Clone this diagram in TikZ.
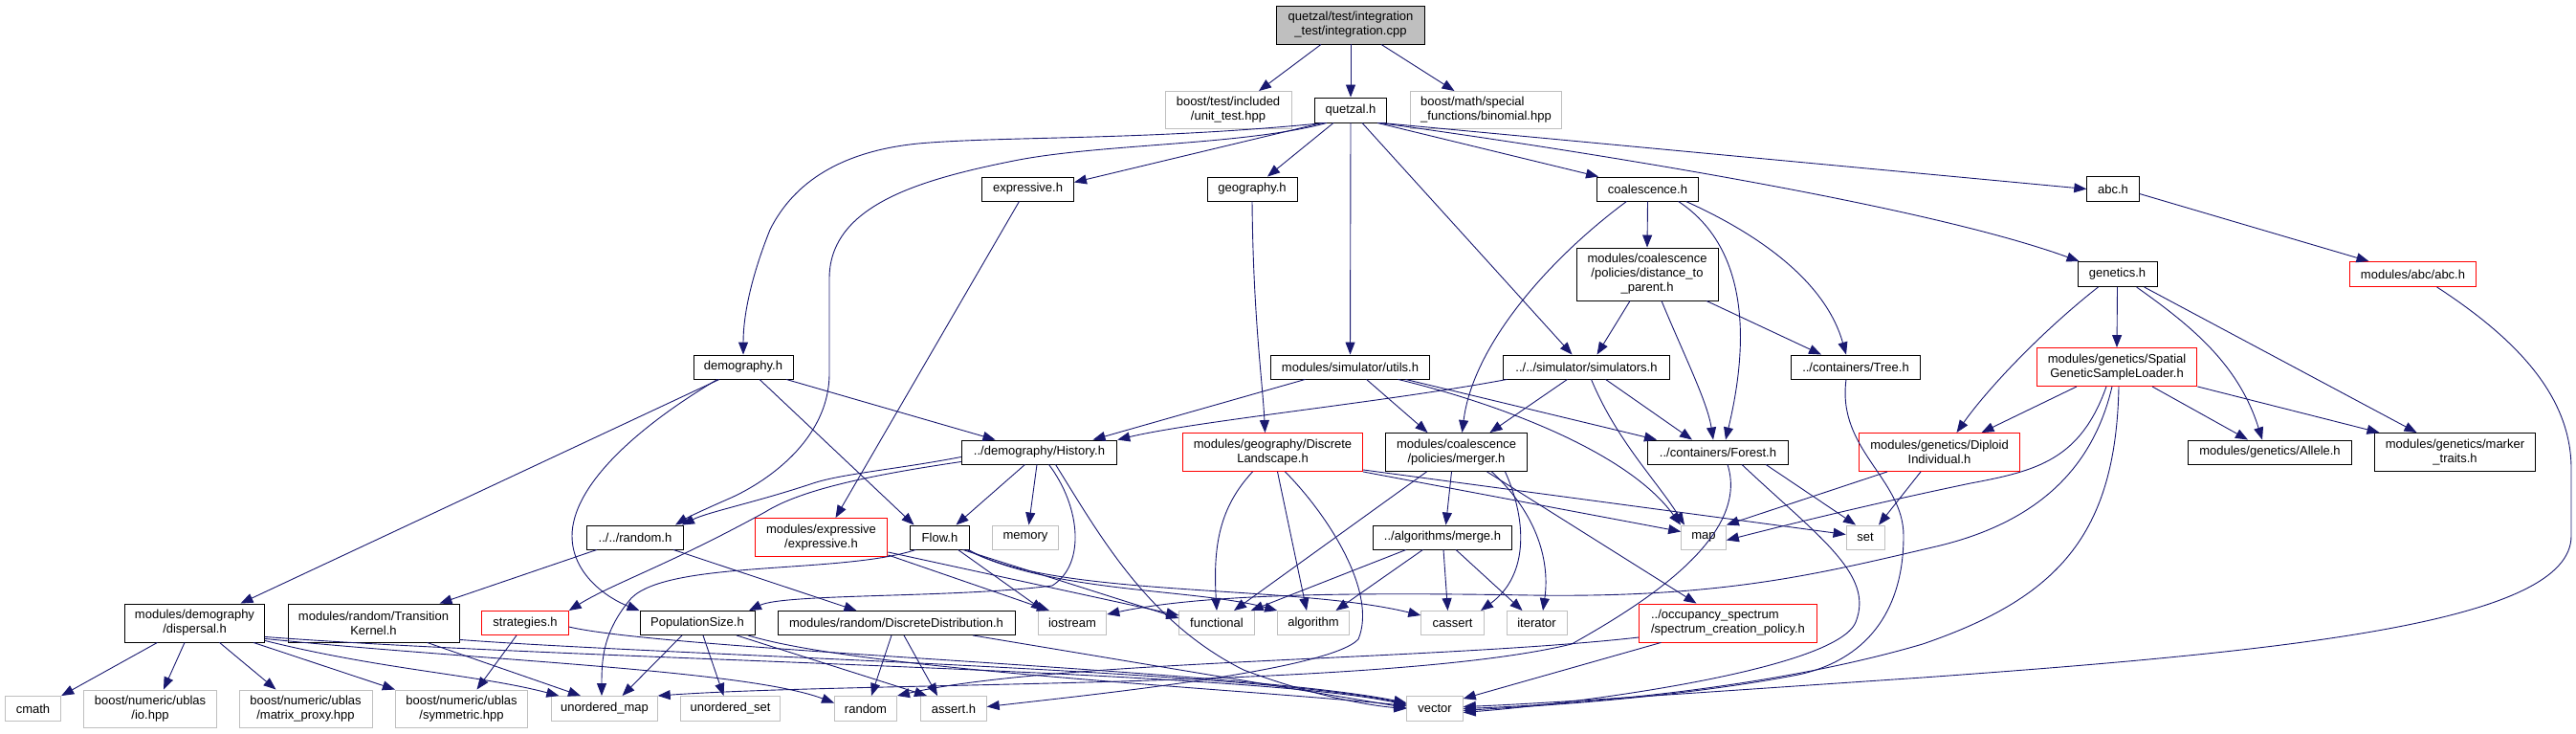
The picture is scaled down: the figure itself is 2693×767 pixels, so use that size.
\documentclass[tikz,border=0pt]{standalone}
\usepackage{fontspec}
\setmainfont{Liberation Sans}
\usetikzlibrary{arrows.meta}
\definecolor{eb}{HTML}{191970}
\definecolor{gb}{HTML}{BFBFBF}
\tikzset{
 box/.style={line width=0.9pt, inner sep=0pt, align=center, font=\fontsize{13pt}{15pt}\selectfont},
 nb/.style={box, draw=black},
 rb/.style={box, draw=red},
 sb/.style={box, draw=gb},
 sz/.style 2 args={minimum width=#1pt, minimum height=#2pt},
 e/.style={draw=eb, line width=0.9pt, -{Triangle[length=13pt,width=10pt]}},
}
\begin{document}
\begin{tikzpicture}[x=1pt,y=-1pt]
\useasboundingbox (0,0) rectangle (2693,767);
% row 0-1
\node[nb, fill=gb, sz={155}{40}] (root) at (1412,26) {quetzal/test/integration\\\_test/integration.cpp};
\node[sb, sz={132}{39}] (boostTest) at (1284,115) {boost/test/included\\/unit\_test.hpp};
\node[nb, sz={75}{26}] (quetzal) at (1412,115) {quetzal.h};
\node[sb, sz={158}{39}, align=left] (binomial) at (1553.5,115) {boost/math/special\\\_functions/binomial.hpp};
% row 2
\node[nb, sz={96}{25}] (expressive) at (1074.5,197.5) {expressive.h};
\node[nb, sz={94}{25}] (geography) at (1309,197.5) {geography.h};
\node[nb, sz={106}{25}] (coalescence) at (1722.5,197.5) {coalescence.h};
\node[nb, sz={54.5}{25.5}] (abc) at (2209,197.5) {abc.h};
% row 3
\node[nb, sz={148}{55}] (dtp) at (1722,286.5) {modules/coalescence\\/policies/distance\_to\\\_parent.h};
\node[nb, sz={83}{26}] (genetics) at (2213.5,286.5) {genetics.h};
\node[rb, sz={132}{26}] (abcabc) at (2522.5,286.5) {modules/abc/abc.h};
% row 4
\node[nb, sz={104}{25}] (demography) at (777,383.5) {demography.h};
\node[nb, sz={166.5}{25}] (utils) at (1411.5,383.5) {modules/simulator/utils.h};
\node[nb, sz={174.4}{25}] (simulators) at (1658.5,383.5) {../../simulator/simulators.h};
\node[nb, sz={134.5}{25}] (Tree) at (1940,383.5) {../containers/Tree.h};
\node[rb, sz={167.7}{40}] (SGSL) at (2213,383.5) {modules/genetics/Spatial\\GeneticSampleLoader.h};
% row 5
\node[nb, sz={162.6}{25}] (History) at (1086.5,472.5) {../demography/History.h};
\node[rb, sz={188}{40}] (DL) at (1330.5,472.5) {modules/geography/Discrete\\Landscape.h};
\node[nb, sz={148.3}{40}] (merger) at (1522.5,472.5) {modules/coalescence\\/policies/merger.h};
\node[nb, sz={146.5}{25}] (Forest) at (1796,472.5) {../containers/Forest.h};
\node[rb, sz={168}{40}] (Diploid) at (2027.5,472.5) {modules/genetics/Diploid\\Individual.h};
\node[nb, sz={170.7}{25}] (Allele) at (2373,472.5) {modules/genetics/Allele.h};
\node[nb, sz={167.7}{40}] (marker) at (2566.5,472.5) {modules/genetics/marker\\\_traits.h};
% row 6
\node[nb, sz={101}{25}] (randomh) at (664,561.5) {../../random.h};
\node[rb, sz={138.7}{40}] (expExp) at (858.5,561.5) {modules/expressive\\/expressive.h};
\node[nb, sz={61.6}{25}] (Flow) at (982.5,561.5) {Flow.h};
\node[sb, sz={69}{25}] (memory) at (1072,561.5) {memory};
\node[nb, sz={145.7}{25}] (merge) at (1508,561.5) {../algorithms/merge.h};
\node[sb, sz={46.8}{25}] (map) at (1781,561.5) {map};
\node[sb, sz={40}{25}] (set) at (1950,561.5) {set};
% row 7
\node[nb, sz={146}{40}] (dispersal) at (203.5,651) {modules/demography\\/dispersal.h};
\node[nb, sz={179}{40}] (TK) at (390.5,651) {modules/random/Transition\\Kernel.h};
\node[rb, sz={90.5}{25}] (strategies) at (549,651) {strategies.h};
\node[nb, sz={120}{25}] (PopSize) at (729,651) {PopulationSize.h};
\node[nb, sz={248}{25}] (DD) at (937,651) {modules/random/DiscreteDistribution.h};
\node[sb, sz={71.6}{25}] (iostream) at (1121,651) {iostream};
\node[sb, sz={78.5}{25}] (functional) at (1272,651) {functional};
\node[sb, sz={74.6}{25}] (algorithm) at (1373,651) {algorithm};
\node[sb, sz={65.5}{25}] (cassert) at (1518.5,651) {cassert};
\node[sb, sz={63}{25}] (iterator) at (1606.5,651) {iterator};
\node[rb, sz={185.6}{40}, align=left] (spectrum) at (1806.5,651) {../occupancy\_spectrum\\/spectrum\_creation\_policy.h};
% row 8
\node[sb, sz={58.5}{26}] (cmath) at (34.5,740.5) {cmath};
\node[sb, sz={138.4}{39}] (io) at (157,740.5) {boost/numeric/ublas\\/io.hpp};
\node[sb, sz={139}{39}] (matrix) at (319.5,740.5) {boost/numeric/ublas\\/matrix\_proxy.hpp};
\node[sb, sz={138.3}{39}] (symmetric) at (482.5,740.5) {boost/numeric/ublas\\/symmetric.hpp};
\node[sb, sz={110.5}{26}] (umap) at (632,740.5) {unordered\_map};
\node[sb, sz={103.3}{26}] (uset) at (763.5,740.5) {unordered\_set};
\node[sb, sz={65}{26}] (random) at (905,740.5) {random};
\node[sb, sz={68.5}{26}] (assert) at (997,740.5) {assert.h};
\node[sb, sz={58.5}{26}] (vector) at (1500,740.5) {vector};

% ---- edges ----
\draw[e] ([xshift=-31pt]root.south) -- ([xshift=32pt]boostTest.north);
\draw[e] (root.south) -- (quetzal.north);
\draw[e] ([xshift=32pt]root.south) -- ([xshift=-33pt]binomial.north);

\draw[e] ([xshift=-27pt]quetzal.south) .. controls (1200,147) and (1050,142) .. (960,150) .. controls (880,158) and (830,190) .. (805,240) .. controls (785,290) and (777,330) .. (demography.north);
\draw[e] ([xshift=-25pt]quetzal.south) .. controls (1300,152) and (1150,150) .. (1060,168) .. controls (960,188) and (868,215) .. (867,290) -- (867,390) .. controls (867,460) and (800,505) .. (760,522) .. controls (735,533) and (720,540) .. ([xshift=42pt]randomh.north);
\draw[e] ([xshift=-30pt]quetzal.south) -- ([yshift=7pt]expressive.east);
\draw[e] ([xshift=-18pt]quetzal.south) -- ([xshift=16pt]geography.north);
\draw[e] (quetzal.south) -- (utils.north);
\draw[e] ([xshift=12pt]quetzal.south) -- ([xshift=-15pt]simulators.north);
\draw[e] ([xshift=28pt]quetzal.south) -- ([xshift=2pt]coalescence.north west);
\draw[e] ([xshift=30pt]quetzal.south) .. controls (1600,150) and (2000,210) .. ([xshift=2pt]genetics.north west);
\draw[e] ([xshift=32pt]quetzal.south) -- (abc.west);

\draw[e] ([xshift=-9pt]expressive.south) -- ([xshift=15pt]expExp.north);
\draw[e] (geography.south) .. controls (1310,330) and (1320,400) .. ([xshift=-8pt]DL.north);
\draw[e] ([yshift=-5pt]abc.east) -- ([xshift=-46pt]abcabc.north);
\draw[e] ([xshift=25pt]abcabc.south) .. controls (2640,360) and (2688,420) .. (2688,490) -- (2688,560) .. controls (2688,650) and (2400,680) .. (2010,708) .. controls (1800,722) and (1620,735) .. ([yshift=2pt]vector.east);

\draw[e] (coalescence.south) -- (dtp.north);
\draw[e] ([xshift=-22pt]coalescence.south) .. controls (1620,270) and (1540,360) .. ([xshift=6pt]merger.north);
\draw[e] ([xshift=32pt]coalescence.south) .. controls (1815,250) and (1835,330) .. ([xshift=8pt]Forest.north);
\draw[e] ([xshift=40pt]coalescence.south) .. controls (1850,250) and (1910,300) .. ([xshift=-10pt]Tree.north);
\draw[e] ([xshift=-18pt]dtp.south) -- ([xshift=11pt]simulators.north);
\draw[e] ([xshift=15pt]dtp.south) .. controls (1760,370) and (1785,420) .. ([xshift=-5pt]Forest.north);
\draw[e] ([xshift=62pt]dtp.south) -- ([xshift=-36pt]Tree.north);

\draw[e] (genetics.south) -- (SGSL.north);
\draw[e] ([xshift=-20pt]genetics.south) .. controls (2130,350) and (2075,410) .. ([xshift=18pt]Diploid.north);
\draw[e] ([xshift=20pt]genetics.south) .. controls (2290,340) and (2340,380) .. ([xshift=-8pt]Allele.north);
\draw[e] ([xshift=28pt]genetics.south) -- ([xshift=-40pt]marker.north);
\draw[e] ([xshift=-42pt]SGSL.south) -- ([xshift=44pt]Diploid.north);
\draw[e] ([xshift=37pt]SGSL.south) -- ([xshift=-23pt]Allele.north);
\draw[e] (SGSL.south east) -- ([xshift=-79pt]marker.north);
\draw[e] ([xshift=-11pt]SGSL.south) .. controls (2175,480) and (2130,492) .. (2060,505) .. controls (1950,528) and (1870,548) .. ([yshift=-3pt]map.east);
\draw[e] ([xshift=-5pt]SGSL.south) .. controls (2190,480) and (2140,545) .. (2020,572) .. controls (1900,600) and (1800,625) .. (1600,622) .. controls (1420,619) and (1260,620) .. ([yshift=9pt]iostream.east);
\draw[e] ([xshift=2pt]SGSL.south) .. controls (2212,560) and (2150,625) .. (2010,673) .. controls (1850,720) and (1650,736) .. (vector.east);

\draw[e] ([xshift=45pt]demography.south) -- ([xshift=-46pt]History.north);
\draw[e] ([xshift=17pt]demography.south) -- ([xshift=-27pt]Flow.north);
\draw[e] ([xshift=-27pt]demography.south) .. controls (660,450) and (598,510) .. (598,560) .. controls (598,600) and (635,625) .. (PopSize.north west);
\draw[e] ([xshift=-25pt]demography.south) -- ([xshift=48pt]dispersal.north);

\draw[e] ([xshift=-47pt]utils.south) -- ([xshift=56pt]History.north);
\draw[e] ([xshift=17pt]utils.south) -- ([xshift=-30pt]merger.north);
\draw[e] ([xshift=58pt]utils.south) -- ([xshift=-64pt]Forest.north);
\draw[e] ([xshift=50pt]utils.south) .. controls (1560,420) and (1700,470) .. ([xshift=-24pt]map.north);

\draw[e] ([xshift=-83pt]simulators.south) .. controls (1450,420) and (1250,440) .. (History.north east);
\draw[e] ([xshift=-20pt]simulators.south) -- ([xshift=35pt]merger.north);
\draw[e] ([xshift=20pt]simulators.south) -- ([xshift=-27pt]Forest.north);
\draw[e] ([xshift=5pt]simulators.south) .. controls (1690,460) and (1730,500) .. ([xshift=-20pt]map.north);

\draw[e] ([xshift=-10pt]Tree.south) .. controls (1920,470) and (1990,500) .. (1990,560) .. controls (1990,640) and (1950,690) .. (1880,705) .. controls (1750,730) and (1600,738) .. ([yshift=-2pt]vector.east);

\draw[e] ([yshift=-5pt]History.west) .. controls (940,490) and (880,495) .. (850,505) .. controls (790,525) and (740,535) .. ([xshift=-2pt]randomh.north east);
\draw[e] ([yshift=-10pt]History.west) .. controls (920,495) and (840,510) .. (800,535) .. controls (700,590) and (640,610) .. (strategies.north east);
\draw[e] ([xshift=-15pt]History.south) -- ([xshift=17pt]Flow.north);
\draw[e] ([xshift=-2.5pt]History.south) -- ([xshift=3.5pt]memory.north);
\draw[e] ([xshift=10pt]History.south) .. controls (1130,530) and (1135,590) .. (1100,612) .. controls (1000,625) and (820,620) .. ([xshift=54pt]PopSize.north);
\draw[e] ([xshift=17pt]History.south) .. controls (1150,560) and (1200,650) .. (1300,700) .. controls (1380,730) and (1440,738) .. (vector.west);

\draw[e] ([xshift=-21pt]DL.south) .. controls (1275,530) and (1268,570) .. (functional.north);
\draw[e] ([xshift=5pt]DL.south) -- ([xshift=-7pt]algorithm.north);
\draw[e] ([xshift=13pt]DL.south) .. controls (1390,540) and (1440,620) .. (1420,668) .. controls (1390,700) and (1150,725) .. ([yshift=2pt]assert.east);
\draw[e] (DL.south east) -- ([yshift=6pt]map.west);
\draw[e] ([yshift=2pt]DL.south east) -- ([yshift=3pt]set.west);

\draw[e] ([xshift=-5pt]merger.south) -- ([xshift=3.5pt]merge.north);
\draw[e] ([xshift=-31pt]merger.south) -- ([xshift=18pt]functional.north);
\draw[e] ([xshift=51pt]merger.south) .. controls (1595,540) and (1600,600) .. ([xshift=29.5pt]cassert.north);
\draw[e] ([xshift=37pt]merger.south) .. controls (1610,540) and (1620,590) .. ([xshift=6.5pt]iterator.north);
\draw[e] ([xshift=32pt]merger.south) -- ([xshift=-33pt]spectrum.north);

\draw[e] ([xshift=-38pt]merge.south) -- ([xshift=-4pt]functional.north east);
\draw[e] ([xshift=-20.5pt]merge.south) -- ([xshift=23.5pt]algorithm.north);
\draw[e] ([xshift=1pt]merge.south) -- ([xshift=-5pt]cassert.north);
\draw[e] ([xshift=14pt]merge.south) -- ([xshift=-15pt]iterator.north);

\draw[e] ([xshift=50pt]Forest.south) -- ([xshift=-10pt]set.north);
\draw[e] ([xshift=25pt]Forest.south) .. controls (1900,560) and (1960,600) .. (1940,650) .. controls (1920,700) and (1650,735) .. ([yshift=-4pt]vector.east);
\draw[e] ([xshift=10pt]Forest.south) .. controls (1830,560) and (1720,630) .. (1643,673) .. controls (1450,720) and (900,712) .. (umap.north east);

\draw[e] ([xshift=-54.5pt]Diploid.south) -- (map.north east);
\draw[e] ([xshift=-19.5pt]Diploid.south) -- ([xshift=14pt]set.north);

\draw[e] ([xshift=-40pt]randomh.south) -- ([xshift=69pt]TK.north);
\draw[e] ([xshift=40pt]randomh.south) -- ([xshift=-41.5pt]DD.north);

\draw[e] ([yshift=2pt]expExp.south east) -- ([xshift=-24pt]iostream.north);
\draw[e] ([yshift=5pt]expExp.south east) -- ([yshift=8pt]functional.west);

\draw[e] ([xshift=-25pt]Flow.south) .. controls (880,600) and (700,585) .. (660,625) .. controls (630,660) and (629,690) .. ([xshift=-3pt]umap.north);
\draw[e] ([xshift=19pt]Flow.south) -- ([xshift=-30pt]iostream.north);
\draw[e] ([xshift=24pt]Flow.south) -- ([yshift=5pt]functional.west);
\draw[e] ([xshift=28pt]Flow.south) .. controls (1100,620) and (1250,615) .. (algorithm.north west);
\draw[e] ([xshift=30pt]Flow.south) .. controls (1100,625) and (1350,610) .. ([yshift=8pt]cassert.west);

\draw[e] ([xshift=-16pt]PopSize.south) -- ([xshift=18.5pt]umap.north);
\draw[e] ([xshift=6pt]PopSize.south) -- ([xshift=-7pt]uset.north);
\draw[e] ([xshift=41pt]PopSize.south) -- ([xshift=-28pt]assert.north);
\draw[e] ([xshift=53pt]PopSize.south) .. controls (900,700) and (1300,720) .. ([yshift=3pt]vector.west);

\draw[e] ([xshift=-5pt]DD.south) -- ([xshift=6pt]random.north);
\draw[e] ([xshift=8pt]DD.south) -- ([xshift=-17pt]assert.north);
\draw[e] ([xshift=80pt]DD.south) -- ([yshift=1pt]vector.west);

\draw[e] ([xshift=-39pt]dispersal.south) -- (cmath.north east);
\draw[e] ([xshift=-10.5pt]dispersal.south) -- ([xshift=14pt]io.north);
\draw[e] ([xshift=26pt]dispersal.south) -- ([xshift=-31pt]matrix.north);
\draw[e] ([xshift=-12pt]dispersal.south east) -- (symmetric.north west);
\draw[e] ([yshift=2pt]dispersal.south east) .. controls (400,700) and (500,705) .. ([xshift=8pt]umap.north west);
\draw[e] ([yshift=4pt]dispersal.south east) .. controls (500,690) and (780,700) .. ([yshift=6pt]random.west);
\draw[e] ([yshift=6pt]dispersal.south east) .. controls (600,690) and (1300,700) .. ([yshift=4pt]vector.west);

\draw[e] ([xshift=56pt]TK.south) -- ([xshift=-25pt]umap.north);
\draw[e] ([yshift=3pt]TK.south east) .. controls (700,685) and (1300,700) .. ([yshift=5pt]vector.west);

\draw[e] ([xshift=-9pt]strategies.south) -- ([xshift=16pt]symmetric.north);
\draw[e] ([yshift=-4pt]strategies.east) .. controls (700,680) and (1300,700) .. ([yshift=6pt]vector.west);

\draw[e] ([xshift=-70pt]spectrum.south) -- ([yshift=-3pt]vector.north east);
\draw[e] ([yshift=-15pt]spectrum.west) .. controls (1500,690) and (1100,690) .. (random.north east);
\end{tikzpicture}
\end{document}
